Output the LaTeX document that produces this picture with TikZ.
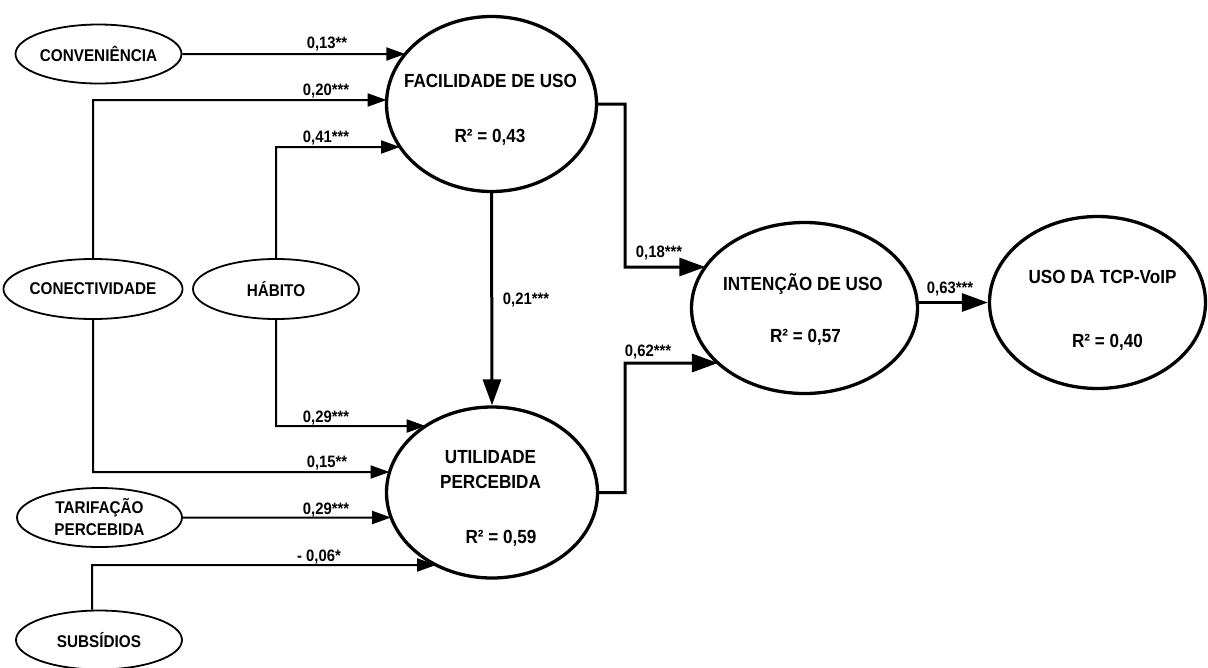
\documentclass[tikz,border=0pt]{standalone}
\usepackage{fontspec}
\setmainfont{Liberation Sans}[FakeStretch=0.9]
\usetikzlibrary{shapes.geometric,arrows.meta,intersections,calc}
\begin{document}
\begin{tikzpicture}[x=1pt,y=-1pt,
  smalle/.style={ellipse, draw, line width=1.8pt, inner sep=0pt, align=center,
    font=\fontsize{17}{22}\selectfont\bfseries},
  bige/.style={ellipse, draw, line width=3.3pt, inner sep=0pt},
  bigtxt/.style={font=\fontsize{19}{25}\selectfont\bfseries, align=center, inner sep=0pt, anchor=base},
  coef/.style={font=\fontsize{16.5}{18}\selectfont\bfseries, inner sep=0pt, anchor=base},
  thinarr/.style={line width=2pt, -{Triangle[length=19pt,width=13pt]}},
  thickarr/.style={line width=3pt, -{Triangle[length=26pt,width=18pt]}},
]
\useasboundingbox (0,0) rectangle (1208,667);

% big constructs
\node[bige, minimum width=210pt, minimum height=175pt, name path=facp] (fac) at (491.5,104) {};
\node[bige, minimum width=211pt, minimum height=171pt, name path=utilp] (util) at (492,492.5) {};
\node[bige, minimum width=226pt, minimum height=171pt, name path=intp] (int) at (804.5,308) {};
\node[bige, minimum width=216pt, minimum height=172pt] (uso) at (1097.5,302.5) {};

\node[bigtxt] (facname) at (490.5,87) {FACILIDADE DE USO};
\node[bigtxt] (facr) at (490,142) {R² = 0,43};
\node[bigtxt, anchor=center] (utilname) at (490.5,469.5) {UTILIDADE\\PERCEBIDA};
\node[bigtxt] (utilr) at (501,543) {R² = 0,59};
\node[bigtxt] (intname) at (803,290) {INTENÇÃO DE USO};
\node[bigtxt] (intr) at (805.5,342) {R² = 0,57};
\node[bigtxt] (usoname) at (1102.5,283) {USO DA TCP-VoIP};
\node[bigtxt] (usor) at (1107.5,347) {R² = 0,40};

% small constructs
\node[smalle, minimum width=166pt, minimum height=59pt] (conv) at (98.5,54) {CONVENIÊNCIA};
\node[smalle, minimum width=162pt, minimum height=60pt] (conect) at (93,289) {CONECTIVIDADE};
\node[smalle, minimum width=166pt, minimum height=60pt] (hab) at (276,289) {HÁBITO};
\node[smalle, minimum width=165pt, minimum height=59pt] (tarif) at (99.5,517.5) {TARIFAÇÃO\\PERCEBIDA};
\node[smalle, minimum width=166pt, minimum height=59pt] (subs) at (99,640) {SUBSÍDIOS};

% bend rows / columns
\coordinate (k1) at (0,100);
\coordinate (k2) at (0,147);
\coordinate (k3) at (0,426);
\coordinate (k4) at (0,472);
\coordinate (k5) at (0,565);
\coordinate (k6) at (625,0);
\coordinate (k7) at (0,267);
\coordinate (k8) at (0,363);

% helper paths
\path[name path=l1] (conv.east) -- ++(400,0);
\path[name path=l2] (conect.north |- k1) -- ++(500,0);
\path[name path=l3] (hab.north |- k2) -- ++(400,0);
\path[name path=l4] (hab.south |- k3) -- ++(400,0);
\path[name path=l5] (conect.south |- k4) -- ++(500,0);
\path[name path=l6] (tarif.east) -- ++(400,0);
\path[name path=l7] ([xshift=-7pt]subs.north |- k5) -- ++(500,0);
\path[name path=l8] (k6 |- k7) -- ++(300,0);
\path[name path=l9] (k6 |- k8) -- ++(300,0);

% connectors
\draw[thinarr, name intersections={of=l1 and facp, sort by=l1, by=t1}] (conv.east) -- (t1);
\draw[thinarr, name intersections={of=l2 and facp, sort by=l2, by=t2}] (conect.north) -- (conect.north |- k1) -- (t2);
\draw[thinarr, name intersections={of=l3 and facp, sort by=l3, by=t3}] (hab.north) -- (hab.north |- k2) -- (t3);
\draw[thinarr, name intersections={of=l4 and utilp, sort by=l4, by=t4}] (hab.south) -- (hab.south |- k3) -- (t4);
\draw[thinarr, name intersections={of=l5 and utilp, sort by=l5, by=t5}] (conect.south) -- (conect.south |- k4) -- (t5);
\draw[thinarr, name intersections={of=l6 and utilp, sort by=l6, by=t6}] (tarif.east) -- (t6);
\draw[thinarr, name intersections={of=l7 and utilp, sort by=l7, by=t7}] ([xshift=-7pt]subs.north) -- ([xshift=-7pt]subs.north |- k5) -- (t7);
\draw[thickarr] (fac.south) -- (util.north);
\draw[thickarr, name intersections={of=l8 and intp, sort by=l8, by=t8}] (fac.east) -- (fac.east -| k6) -- (k6 |- k7) -- (t8);
\draw[thickarr, name intersections={of=l9 and intp, sort by=l9, by=t9}] (util.east) -- (util.east -| k6) -- (k6 |- k8) -- (t9);
\draw[thickarr] (uso.west -| int.east) -- (uso.west);

% coefficients
\node[coef] (e1) at (327,48) {0,13**};
\node[coef] (e2) at (326,95) {0,20***};
\node[coef] (e3) at (326,142) {0,41***};
\node[coef] (e4) at (526,304) {0,21***};
\node[coef] (e5) at (326,422) {0,29***};
\node[coef] (e6) at (327,467) {0,15**};
\node[coef] (e7) at (326,514) {0,29***};
\node[coef] (e8) at (319,561) {- 0,06*};
\node[coef] (e9) at (659,257) {0,18***};
\node[coef] (e10) at (648,356) {0,62***};
\node[coef] (e11) at (950,293) {0,63***};
\end{tikzpicture}
\end{document}
